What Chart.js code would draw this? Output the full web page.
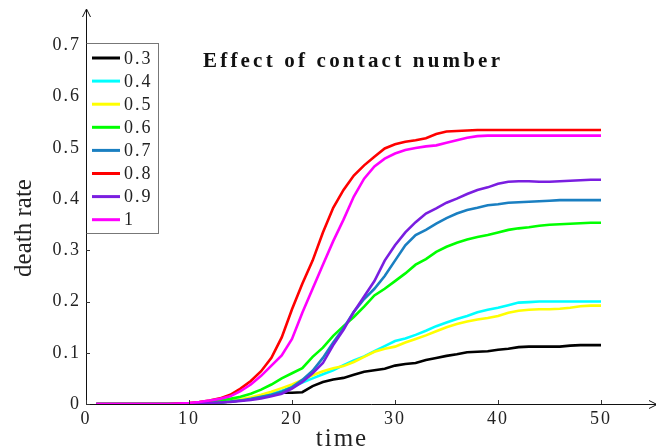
<!DOCTYPE html>
<html>
<head>
<meta charset="utf-8">
<style>
  html, body { margin: 0; padding: 0; background: #fff; }
  #wrap { width: 656px; height: 448px; position: relative; }
</style>
<script src="https://cdn.jsdelivr.net/npm/chart.js@4.4.1/dist/chart.umd.min.js"></script>
</head>
<body>
<div id="wrap"><canvas id="deathChart" width="656" height="448"></canvas></div>
<script>
// --- Données ---
const times = [1, 2, 3, 4, 5, 6, 7, 8, 9, 10,
    11, 12, 13, 14, 15, 16, 17, 18, 19, 20,
    21, 22, 23, 24, 25, 26, 27, 28, 29, 30,
    31, 32, 33, 34, 35, 36, 37, 38, 39, 40,
    41, 42, 43, 44, 45, 46, 47, 48, 49, 50];

const contactNumbers = ['0.3', '0.4', '0.5', '0.6', '0.7', '0.8', '0.9', '1'];
const lineColors = ['#000000', '#00ffff', '#ffff00', '#00ff00', '#1a7fc1', '#ff0000', '#7a1ee0', '#ff00ff'];

const rate03 = [0, 0, 0, 0, 0, 0, 0, 0, 0, 0,
    0.001, 0.002, 0.003, 0.005, 0.007, 0.010, 0.014, 0.019, 0.022, 0.022,
    0.023, 0.035, 0.043, 0.048, 0.051, 0.057, 0.063, 0.066, 0.069, 0.075,
    0.078, 0.080, 0.086, 0.090, 0.094, 0.097, 0.101, 0.102, 0.103, 0.106,
    0.108, 0.111, 0.112, 0.112, 0.112, 0.112, 0.114, 0.115, 0.115, 0.115];
const rate04 = [0, 0, 0, 0, 0, 0, 0, 0, 0, 0,
    0.001, 0.002, 0.004, 0.006, 0.008, 0.011, 0.015, 0.020, 0.026, 0.033,
    0.042, 0.050, 0.058, 0.066, 0.076, 0.085, 0.093, 0.103, 0.113, 0.123,
    0.128, 0.135, 0.143, 0.152, 0.159, 0.166, 0.172, 0.179, 0.184, 0.188,
    0.193, 0.198, 0.199, 0.200, 0.200, 0.200, 0.200, 0.200, 0.200, 0.200];
const rate05 = [0, 0, 0, 0, 0, 0, 0, 0, 0, 0,
    0.001, 0.002, 0.004, 0.006, 0.009, 0.013, 0.018, 0.024, 0.031, 0.038,
    0.047, 0.056, 0.064, 0.070, 0.074, 0.082, 0.092, 0.102, 0.108, 0.112,
    0.120, 0.127, 0.134, 0.142, 0.150, 0.156, 0.161, 0.165, 0.168, 0.172,
    0.178, 0.182, 0.184, 0.185, 0.185, 0.186, 0.188, 0.191, 0.192, 0.192];
const rate06 = [0, 0, 0, 0, 0, 0, 0, 0, 0, 0.001,
    0.002, 0.004, 0.007, 0.010, 0.014, 0.020, 0.028, 0.038, 0.050, 0.060,
    0.070, 0.092, 0.110, 0.133, 0.152, 0.170, 0.190, 0.212, 0.225, 0.240,
    0.255, 0.272, 0.283, 0.297, 0.307, 0.315, 0.321, 0.326, 0.330, 0.335,
    0.340, 0.343, 0.345, 0.348, 0.350, 0.351, 0.352, 0.353, 0.354, 0.354];
const rate07 = [0, 0, 0, 0, 0, 0, 0, 0, 0, 0,
    0.001, 0.002, 0.003, 0.005, 0.007, 0.010, 0.014, 0.018, 0.024, 0.033,
    0.047, 0.065, 0.090, 0.120, 0.148, 0.180, 0.205, 0.225, 0.250, 0.280,
    0.310, 0.330, 0.340, 0.352, 0.363, 0.372, 0.379, 0.383, 0.388, 0.390,
    0.393, 0.394, 0.395, 0.396, 0.397, 0.398, 0.398, 0.398, 0.398, 0.398];
const rate08 = [0, 0, 0, 0, 0, 0, 0, 0, 0.001, 0.002,
    0.004, 0.007, 0.011, 0.018, 0.030, 0.045, 0.064, 0.090, 0.130, 0.185,
    0.235, 0.280, 0.335, 0.383, 0.418, 0.446, 0.466, 0.483, 0.499, 0.507,
    0.512, 0.515, 0.519, 0.527, 0.532, 0.533, 0.534, 0.535, 0.535, 0.535,
    0.535, 0.535, 0.535, 0.535, 0.535, 0.535, 0.535, 0.535, 0.535, 0.535];
const rate09 = [0, 0, 0, 0, 0, 0, 0, 0, 0, 0,
    0.001, 0.002, 0.003, 0.004, 0.006, 0.008, 0.011, 0.015, 0.020, 0.030,
    0.043, 0.060, 0.080, 0.115, 0.145, 0.180, 0.210, 0.240, 0.280, 0.310,
    0.335, 0.355, 0.372, 0.382, 0.393, 0.401, 0.410, 0.418, 0.423, 0.430,
    0.434, 0.435, 0.435, 0.434, 0.434, 0.435, 0.436, 0.437, 0.438, 0.438];
const rate10 = [0, 0, 0, 0, 0, 0, 0, 0, 0.001, 0.002,
    0.004, 0.007, 0.010, 0.015, 0.025, 0.038, 0.055, 0.075, 0.095, 0.127,
    0.178, 0.225, 0.272, 0.318, 0.360, 0.405, 0.440, 0.464, 0.479, 0.489,
    0.496, 0.500, 0.503, 0.505, 0.510, 0.515, 0.520, 0.523, 0.524, 0.524,
    0.524, 0.524, 0.524, 0.524, 0.524, 0.524, 0.524, 0.524, 0.524, 0.524];

const allRates = [rate03, rate04, rate05, rate06, rate07, rate08, rate09, rate10];

const xTickMax = 50;
const yTickMax = 0.7;

const titleText = 'Effect of contact number';
const xTitle = 'time';
const yTitle = 'death rate';

const serif = '"Liberation Serif", "Times New Roman", serif';

// --- Décor : axes fléchés, graduations internes, légende encadrée, titres ---
const decorPlugin = {
    id: 'decor',
    beforeDraw(chart) {
        chart.ctx.letterSpacing = '2px';
    },
    afterDraw(chart) {
        const ctx = chart.ctx;
        const area = chart.chartArea;
        const xs = chart.scales.x;
        const ys = chart.scales.y;
        ctx.save();

        // axes
        ctx.strokeStyle = '#111';
        ctx.lineWidth = 1;
        ctx.beginPath();
        ctx.moveTo(area.left + 0.5, area.bottom + 0.5);
        ctx.lineTo(area.left + 0.5, 10);
        ctx.moveTo(area.left + 0.5, area.bottom + 0.5);
        ctx.lineTo(656, area.bottom + 0.5);
        // flèche verticale
        ctx.moveTo(area.left - 3.5, 17);
        ctx.lineTo(area.left + 0.5, 9);
        ctx.lineTo(area.left + 4.5, 17);
        // flèche horizontale (coupée au bord)
        ctx.moveTo(649, area.bottom - 3.5);
        ctx.lineTo(657, area.bottom + 0.5);
        ctx.lineTo(649, area.bottom + 4.5);
        ctx.stroke();

        // graduations internes
        ctx.strokeStyle = '#333';
        ctx.beginPath();
        ys.ticks.forEach(t => {
            const y = Math.round(ys.getPixelForValue(t.value)) + 0.5;
            ctx.moveTo(area.left, y);
            ctx.lineTo(area.left + 4, y);
        });
        xs.ticks.forEach(t => {
            const x = Math.round(xs.getPixelForValue(t.value)) + 0.5;
            ctx.moveTo(x, area.bottom);
            ctx.lineTo(x, area.bottom - 4);
        });
        ctx.stroke();

        // légende encadrée
        const boxLeft = area.left + 0.5, boxTop = 43.5, boxW = 72, boxH = 190;
        ctx.fillStyle = '#fff';
        ctx.fillRect(boxLeft, boxTop, boxW, boxH);
        ctx.strokeStyle = '#777';
        ctx.strokeRect(boxLeft, boxTop, boxW, boxH);
        ctx.strokeStyle = '#111';
        ctx.beginPath();
        ctx.moveTo(boxLeft, boxTop);
        ctx.lineTo(boxLeft, boxTop + boxH);
        ctx.stroke();

        ctx.font = '18px ' + serif;
        ctx.letterSpacing = '2px';
        ctx.textBaseline = 'middle';
        ctx.textAlign = 'left';
        chart.data.datasets.forEach((ds, i) => {
            const y = 58 + i * 23.1;
            ctx.strokeStyle = ds.borderColor;
            ctx.lineWidth = 3;
            ctx.beginPath();
            ctx.moveTo(92, y);
            ctx.lineTo(120, y);
            ctx.stroke();
            ctx.fillStyle = '#222';
            ctx.fillText(ds.label, 124, y + 1);
        });

        // titre
        ctx.font = 'bold 21px ' + serif;
        ctx.letterSpacing = '3.2px';
        ctx.fillStyle = '#111';
        ctx.textBaseline = 'alphabetic';
        ctx.fillText(titleText, 203, 67);

        // titre de l'axe x
        ctx.font = '25px ' + serif;
        ctx.letterSpacing = '2px';
        ctx.fillStyle = '#222';
        ctx.textAlign = 'center';
        ctx.fillText(xTitle, 342, 446);

        // titre de l'axe y
        ctx.translate(31, 228);
        ctx.rotate(-Math.PI / 2);
        ctx.letterSpacing = '0px';
        ctx.fillText(yTitle, 0, 0);

        ctx.restore();
    }
};

const datasets = contactNumbers.map((name, i) => ({
    label: name,
    data: times.map((t, k) => ({ x: t, y: allRates[i][k] })),
    borderColor: lineColors[i],
    backgroundColor: lineColors[i],
    borderWidth: 2.6,
    pointRadius: 0,
    tension: 0,
    fill: false,
    order: contactNumbers.length - i
}));

const tickFont = { family: serif, size: 18 };

new Chart(document.getElementById('deathChart'), {
    type: 'line',
    data: { datasets: datasets },
    plugins: [decorPlugin],
    options: {
        responsive: false,
        animation: false,
        layout: { padding: { top: 12, right: 1, left: 0, bottom: 0 } },
        plugins: {
            legend: { display: false },
            tooltip: { enabled: false }
        },
        scales: {
            x: {
                type: 'linear',
                min: 0,
                max: 55.24,
                afterFit: s => { s.height = 44; },
                grid: { display: false, drawTicks: false },
                border: { display: false },
                ticks: {
                    stepSize: 10,
                    includeBounds: false,
                    padding: 4,
                    color: '#222',
                    font: tickFont,
                    maxRotation: 0,
                    callback: v => (v <= xTickMax ? String(Math.round(v)) : '')
                }
            },
            y: {
                type: 'linear',
                min: 0,
                max: 0.758,
                afterFit: s => { s.width = 86; },
                grid: { display: false, drawTicks: false },
                border: { display: false },
                ticks: {
                    stepSize: 0.1,
                    includeBounds: false,
                    padding: 5,
                    color: '#222',
                    font: tickFont,
                    callback: v => (v > yTickMax + 1e-6 ? '' : (Math.abs(v) < 1e-9 ? '0' : v.toFixed(1)))
                }
            }
        }
    }
});
</script>
</body>
</html>
